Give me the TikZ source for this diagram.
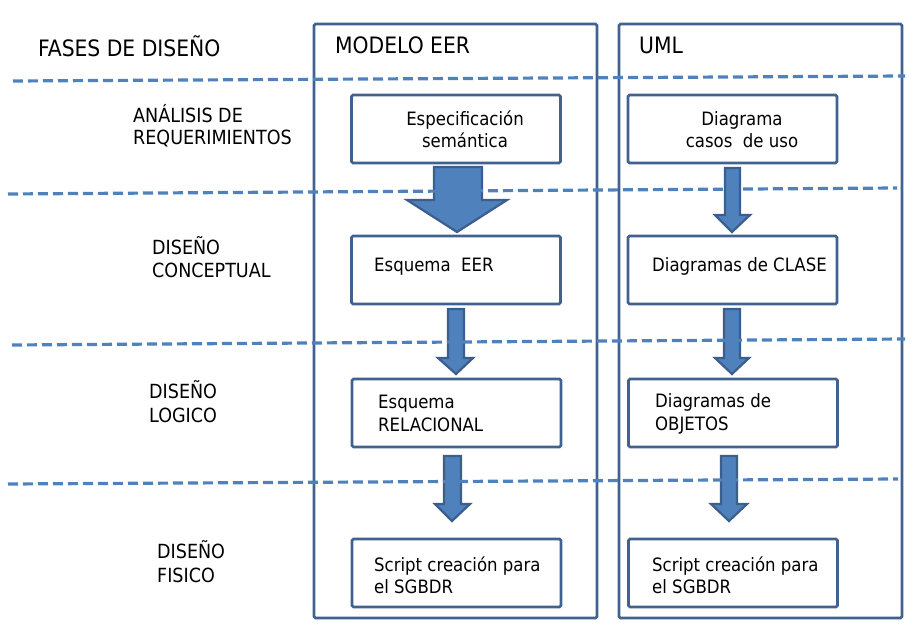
\documentclass[tikz,border=0pt]{standalone}
\usepackage{fontspec}
\setmainfont{DejaVu Sans Condensed}
\definecolor{lineblue}{HTML}{4F81BD}
\definecolor{edgeblue}{HTML}{41628F}
\definecolor{arrowedge}{HTML}{3C5E8C}
\tikzset{
  bigbox/.style={draw=edgeblue, line width=2.8pt, rounded corners=1.5pt, minimum width=283pt, minimum height=594pt, inner sep=0pt},
  stepbox/.style={draw=edgeblue, line width=2.8pt, rounded corners=1.5pt, fill=white, minimum width=209pt, minimum height=68pt, inner sep=0pt},
  phaseline/.style={draw=lineblue, line width=3.2pt, dash pattern=on 10pt off 5pt},
  blockarrow/.style={fill=lineblue, draw=arrowedge, line width=2.2pt, line join=miter},
  txt/.style={anchor=base west, inner sep=0pt, font=\fontsize{18.4}{22}\selectfont},
  phase/.style={anchor=base west, inner sep=0pt, font=\fontsize{19.5}{23}\selectfont},
  head/.style={anchor=base west, inner sep=0pt, font=\fontsize{22.6}{27}\selectfont}
}
\begin{document}
\begin{tikzpicture}[x=1pt,y=-1pt]
\useasboundingbox (0,0) rectangle (923,631);
% column frames
\node[bigbox] (eer) at (455.5,321) {};
\node[bigbox] (uml) at (760.5,321) {};
% step boxes
\node[stepbox] (e1) at (456,129) {};
\node[stepbox] (e2) at (456,270) {};
\node[stepbox] (e3) at (456.5,413) {};
\node[stepbox] (e4) at (456.5,573) {};
\node[stepbox] (u1) at (732.5,129) {};
\node[stepbox] (u2) at (732.5,270) {};
\node[stepbox] (u3) at (733,413) {};
\node[stepbox] (u4) at (733,573) {};
% headings
\node[head] (t0) at (38,57) {FASES DE DISEÑO};
\node[head] (t1) at (335,54) {MODELO EER};
\node[head] (t2) at (639,54) {UML};
% phase labels
\node[phase] (p1a) at (133,123) {ANÁLISIS DE};
\node[phase] (p1b) at (133,145) {REQUERIMIENTOS};
\node[phase] (p2a) at (152,254) {DISEÑO};
\node[phase] (p2b) at (152,277) {CONCEPTUAL};
\node[phase] (p3a) at (149,398) {DISEÑO};
\node[phase] (p3b) at (149,422) {LOGICO};
\node[phase] (p4a) at (157,558) {DISEÑO};
\node[phase] (p4b) at (157,582) {FISICO};
% box texts
\node[txt, anchor=base] (e1a) at (465,126) {Especificación};
\node[txt, anchor=base] (e1b) at (465,148) {semántica};
\node[txt] (e2a) at (374,271) {Esquema\ \ EER};
\node[txt] (e3a) at (378,408) {Esquema};
\node[txt] (e3b) at (378,431) {RELACIONAL};
\node[txt] (e4a) at (374,571) {Script creación para};
\node[txt] (e4b) at (374,593) {el SGBDR};
\node[txt, anchor=base] (u1a) at (742,126) {Diagrama};
\node[txt, anchor=base] (u1b) at (742,148) {casos\ \ de uso};
\node[txt] (u2a) at (652,271) {Diagramas de CLASE};
\node[txt] (u3a) at (655,407) {Diagramas de};
\node[txt] (u3b) at (655,430) {OBJETOS};
\node[txt] (u4a) at (652,571) {Script creación para};
\node[txt] (u4b) at (652,593) {el SGBDR};
% block arrows
\draw[blockarrow] (434,167) -- (482,167) -- (482,200) -- (507,200) -- (457,232) -- (407,200) -- (434,200) -- cycle;
\draw[blockarrow] (448,309) -- (464,309) -- (464,358) -- (473,358) -- (456,374) -- (438,358) -- (448,358) -- cycle;
\draw[blockarrow] (444,456) -- (461,456) -- (461,504) -- (470,504) -- (452,521) -- (435,504) -- (444,504) -- cycle;
\draw[blockarrow] (725,168) -- (740,168) -- (740,215) -- (750,215) -- (732,232) -- (715,215) -- (725,215) -- cycle;
\draw[blockarrow] (724,309) -- (740,309) -- (740,358) -- (749,358) -- (732,374) -- (715,358) -- (724,358) -- cycle;
\draw[blockarrow] (721,456) -- (737,456) -- (737,504) -- (747,504) -- (729,521) -- (711,504) -- (721,504) -- cycle;
% phase separators
\coordinate (l1a) at (13,81);  \coordinate (l1b) at (905,76);
\coordinate (l2a) at (8,194);  \coordinate (l2b) at (897,188);
\coordinate (l3a) at (12,345); \coordinate (l3b) at (905,339);
\coordinate (l4a) at (8,484);  \coordinate (l4b) at (898,479);
\draw[phaseline] (l1a) -- (l1b);
\draw[phaseline] (l2a) -- (l2b);
\draw[phaseline] (l3a) -- (l3b);
\draw[phaseline] (l4a) -- (l4b);
\end{tikzpicture}
\end{document}
